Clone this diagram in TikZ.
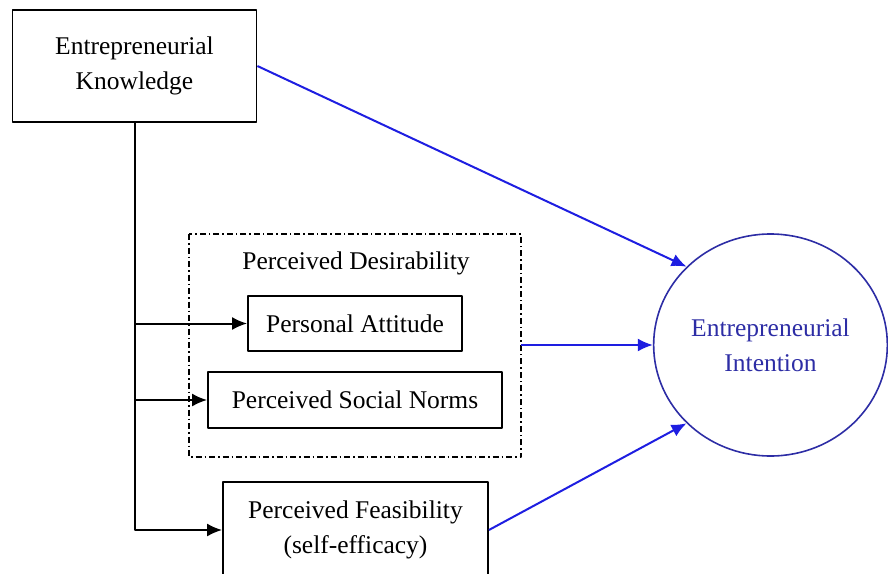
\documentclass[tikz,border=0pt]{standalone}
\usepackage{fontspec}
\setmainfont{Liberation Serif}
\usetikzlibrary{shapes.geometric,arrows.meta}
\definecolor{arrblue}{RGB}{30,30,225}
\definecolor{ellblue}{RGB}{45,45,165}
\tikzset{
	box/.style={draw,line width=1.8pt,align=center,inner sep=0pt},
	arr/.style={line width=2pt,-{Latex[length=15pt,width=13pt]}},
	barr/.style={arr,arrblue}
}
\begin{document}
\begin{tikzpicture}[x=1pt,y=-1pt,line join=round,font=\fontsize{25.5}{35}\selectfont]
			\useasboundingbox (0,0) rectangle (888,573);
			\clip (0,0) rectangle (888,573);
			% boxes
			\node [box,minimum width=244,minimum height=112] (know) at (134.5,66) {Entrepreneurial\\Knowledge};
			\draw [line width=1.3pt,dash pattern=on 6pt off 3pt on 1.5pt off 3pt] (189,234) rectangle (521,457);
			\coordinate (desir) at (521,345);
			\node (desirlab) at (356,263) {Perceived Desirability};
			\node [box,minimum width=214,minimum height=55] (att) at (355,323.5) {Personal Attitude};
			\node [box,minimum width=294,minimum height=56] (norm) at (355,400) {Perceived Social Norms};
			\node [box,minimum width=265,minimum height=96] (feas) at (355.5,530) {Perceived Feasibility\\(self-efficacy)};
			\node [draw=ellblue,line width=1.6pt,ellipse,minimum width=233,minimum height=222,text=ellblue,align=center] (intent) at (770.5,345) {Entrepreneurial\\Intention};
			% arrows
			\draw [arr] (know.south) |- (feas.west);
			\draw [arr] (know.south) |- (att.west);
			\draw [arr] (know.south) |- (norm.west);
			\draw [barr] (know.east) -- (intent.137);
			\draw [barr] (desir) -- (intent.west);
			\draw [barr] (feas.east) -- (intent.223);
		\end{tikzpicture}
\end{document}
